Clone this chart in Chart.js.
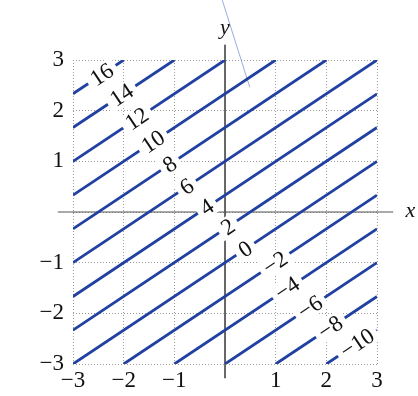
<!DOCTYPE html>
<html>
<head>
<meta charset="utf-8">
<script src="https://cdn.jsdelivr.net/npm/chart.js@4.4.1/dist/chart.umd.min.js"></script>
<style>
  body { margin: 0; background: #fff; }
  #wrap { width: 418px; height: 396px; }
</style>
</head>
<body>
<div id="wrap"><canvas id="myChart"></canvas></div>
<script>
// contour levels of the plane, one straight line each, with its two ends on the box
const levels = [16, 14, 12, 10, 8, 6, 4, 2, 0, -2, -4, -6, -8, -10];
const startX = [-3, -3, -3, -3, -3, -3, -3, -3, -3, -2, -1, 0, 1, 2];
const startY = [2.333, 1.667, 1, 0.333, -0.333, -1, -1.667, -2.333, -3, -3, -3, -3, -3, -3];
const endX = [-2, -1, 0, 1, 2, 3, 3, 3, 3, 3, 3, 3, 3, 3];
const endY = [3, 3, 3, 3, 3, 3, 2.333, 1.667, 1, 0.333, -0.333, -1, -1.667, -2.333];
// where along each line its label sits (x value)
const labelX = [-2.43, -2.04, -1.74, -1.42, -1.09, -0.75, -0.36, 0.06, 0.40, 0.99, 1.23, 1.68, 2.08, 2.61];
const tickValues = [-3, -2, -1, 0, 1, 2, 3];

const lineBlue = "#2040a2";
const serif = "'Liberation Serif', 'DejaVu Serif', serif";

const datasets = [];
for (let i = 0; i < levels.length; i++) {
  datasets.push({
    data: [{ x: startX[i], y: startY[i] }, { x: endX[i], y: endY[i] }],
    borderColor: lineBlue,
    borderWidth: 2.8,
    showLine: true,
    pointRadius: 0,
  });
}
// the two coordinate axes, running a little past the box
datasets.push({
  data: [{ x: -3.3, y: 0 }, { x: 3.32, y: 0 }],
  borderColor: "#555", borderWidth: 1, showLine: true, pointRadius: 0, clip: false,
});
datasets.push({
  data: [{ x: 0, y: 3.3 }, { x: 0, y: -3.28 }],
  borderColor: "#555", borderWidth: 1, showLine: true, pointRadius: 0, clip: false,
});
// thin pointer line near the y label
datasets.push({
  data: [{ x: -0.06, y: 4.2 }, { x: 0.49, y: 2.46 }],
  borderColor: "#7f98d6", borderWidth: 0.8, showLine: true, pointRadius: 0, clip: false,
});

const fmt = (v) => (v === 0 ? "" : (v < 0 ? "\u2212" + Math.abs(v) : String(v)));

const contourLabels = {
  id: "contourLabels",
  afterDatasetsDraw(chart) {
    const ctx = chart.ctx;
    const xs = chart.scales.x, ys = chart.scales.y;
    ctx.save();
    ctx.font = "23px " + serif;
    ctx.textAlign = "center";
    ctx.textBaseline = "middle";
    for (let i = 0; i < levels.length; i++) {
      const t = (labelX[i] - startX[i]) / (endX[i] - startX[i]);
      const ly = startY[i] + t * (endY[i] - startY[i]);
      const px = xs.getPixelForValue(labelX[i]);
      const py = ys.getPixelForValue(ly);
      const ang = Math.atan2(
        ys.getPixelForValue(endY[i]) - ys.getPixelForValue(startY[i]),
        xs.getPixelForValue(endX[i]) - xs.getPixelForValue(startX[i])
      );
      const txt = fmt(levels[i]) || "0";
      const w = ctx.measureText(txt).width;
      ctx.save();
      ctx.translate(px, py);
      ctx.rotate(ang);
      ctx.fillStyle = "#fff";
      ctx.fillRect(-w / 2 - 5, -10, w + 10, 20);
      ctx.fillStyle = "#111";
      ctx.fillText(txt, 0, 1);
      ctx.restore();
    }
    // axis names
    ctx.font = "italic 22px " + serif;
    ctx.fillStyle = "#111";
    ctx.fillText("x", xs.getPixelForValue(3.66), ys.getPixelForValue(0) - 1);
    ctx.fillText("y", xs.getPixelForValue(0), ys.getPixelForValue(3.63));
    ctx.restore();
  },
};

const gridOpts = {
  color: "#9a9a9a",
  lineWidth: 1,
  drawTicks: false,
};

const myChart = new Chart("myChart", {
  type: "scatter",
  data: { datasets: datasets },
  options: {
    responsive: true,
    maintainAspectRatio: false,
    animation: false,
    layout: { padding: { top: 60, right: 41, left: 0, bottom: 0 } },
    plugins: { legend: { display: false }, tooltip: { enabled: false } },
    scales: {
      x: {
        type: "linear",
        min: -3, max: 3,
        afterBuildTicks: (s) => { s.ticks = tickValues.map((v) => ({ value: v })); },
        afterFit: (s) => { s.height = 32; },
        grid: gridOpts,
        border: { display: false, dash: [1, 2] },
        ticks: {
          padding: 3,
          color: "#111",
          font: { family: serif, size: 23 },
          callback: (v) => fmt(v),
        },
      },
      y: {
        type: "linear",
        min: -3, max: 3,
        afterBuildTicks: (s) => { s.ticks = tickValues.map((v) => ({ value: v })); },
        afterFit: (s) => { s.width = 73; },
        grid: gridOpts,
        border: { display: false, dash: [1, 2] },
        ticks: {
          padding: 9,
          color: "#111",
          font: { family: serif, size: 23 },
          callback: (v) => fmt(v),
        },
      },
    },
  },
  plugins: [contourLabels],
});
</script>
</body>
</html>
